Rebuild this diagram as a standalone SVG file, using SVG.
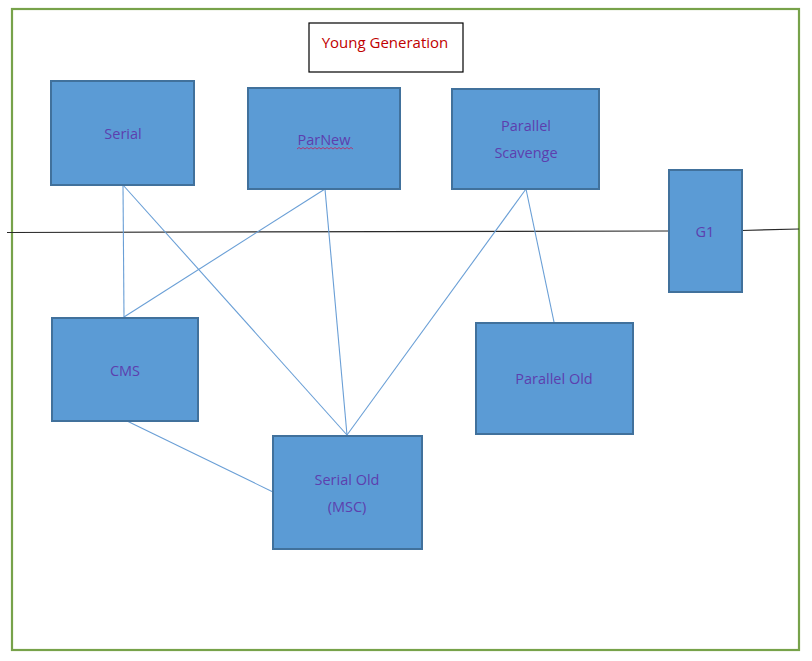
<svg xmlns="http://www.w3.org/2000/svg" width="812" height="661" viewBox="0 0 812 661">
<style>
.box{fill:#5b9bd5;stroke:#41719c;stroke-width:2}
.lbl{font-family:"Open Sans","Liberation Sans",sans-serif;font-size:14.5px;fill:#5d3fae;text-anchor:middle}
.conn line{stroke:#6a9fd6;stroke-width:1.1}
</style>
<rect x="0" y="0" width="812" height="661" fill="#ffffff"/>
<rect x="12" y="9" width="787" height="641" fill="none" stroke="#77a24a" stroke-width="2.2"/>
<g id="divider"><polyline points="7,232.5 669,231 742,230.5 799,229" fill="none" stroke="#2a2a2a" stroke-width="1.2"/></g>
<g id="title">
<rect x="309" y="23" width="154" height="49" fill="#ffffff" stroke="#000000" stroke-width="1.2"/>
<text x="385" y="48" font-family="'Open Sans','Liberation Sans',sans-serif" font-size="15" fill="#c00000" text-anchor="middle">Young Generation</text>
</g>
<g class="conn" id="connectors">
<line x1="123" y1="185" x2="124" y2="317"/>
<line x1="325" y1="189" x2="124" y2="317"/>
<line x1="123" y1="185" x2="347" y2="435"/>
<line x1="325" y1="189" x2="347" y2="435"/>
<line x1="526" y1="189" x2="347" y2="435"/>
<line x1="526" y1="189" x2="554" y2="322"/>
<line x1="127" y1="421" x2="273" y2="492"/>
</g>
<g id="serial"><rect class="box" x="51" y="81" width="143" height="104"/><text class="lbl" x="123" y="139">Serial</text></g>
<g id="parnew"><rect class="box" x="248" y="88" width="152" height="101"/><text class="lbl" x="324" y="145">ParNew</text>
<polyline points="297,149 299,147.5 301,149 303,147.5 305,149 307,147.5 309,149 311,147.5 313,149 315,147.5 317,149 319,147.5 321,149 323,147.5 325,149 327,147.5 329,149 331,147.5 333,149 335,147.5 337,149 339,147.5 341,149 343,147.5 345,149 347,147.5 349,149 351,147.5 353,149" fill="none" stroke="#c02060" stroke-width="0.8"/></g>
<g id="parallel-scavenge"><rect class="box" x="452" y="89" width="147" height="100"/><text class="lbl" x="526" y="131">Parallel</text><text class="lbl" x="526" y="158">Scavenge</text></g>
<g id="g1"><rect class="box" x="669" y="170" width="73" height="122"/><text class="lbl" x="705" y="237">G1</text></g>
<g id="cms"><rect class="box" x="52" y="318" width="146" height="103"/><text class="lbl" x="125" y="376">CMS</text></g>
<g id="serial-old"><rect class="box" x="273" y="436" width="149" height="113"/><text class="lbl" x="347" y="485">Serial Old</text><text class="lbl" x="347" y="512">(MSC)</text></g>
<g id="parallel-old"><rect class="box" x="476" y="323" width="157" height="111"/><text class="lbl" x="554" y="384">Parallel Old</text></g>
</svg>
